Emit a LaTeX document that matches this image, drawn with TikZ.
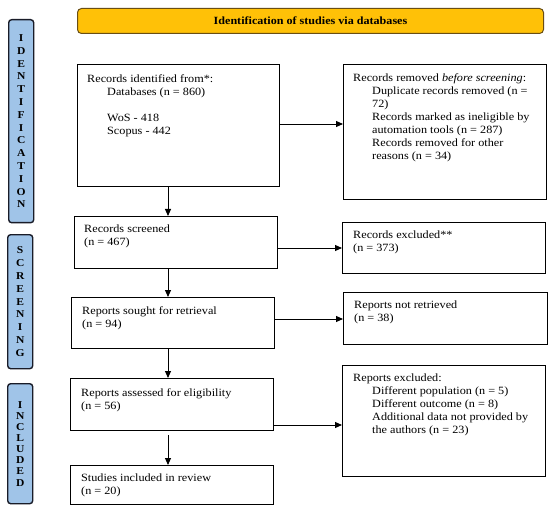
\documentclass[tikz,border=0pt]{standalone}
\usepackage{fontspec}
\setmainfont{Liberation Serif}[FakeStretch=1.1]
\usetikzlibrary{arrows.meta}
\definecolor{bannerfill}{RGB}{255,193,7}
\definecolor{bannerline}{RGB}{105,78,20}
\definecolor{sidefill}{RGB}{160,196,232}
\definecolor{sideline}{RGB}{25,28,40}
\begin{document}
\begin{tikzpicture}[x=1pt,y=-1pt,
  box/.style={draw=black, line width=1.2pt, anchor=north west, inner sep=0pt},
  txt/.style={anchor=north west, inner sep=0pt, align=left, font=\fontsize{11.1}{13}\selectfont},
  sidebox/.style={draw=sideline, fill=sidefill, rounded corners=3pt, line width=1.4pt, anchor=north west, minimum width=25pt, inner sep=0pt, align=center, font=\bfseries\fontsize{10.5}{12.8}\selectfont},
  arr/.style={-{Triangle[length=7pt,width=6pt]}, line width=0.9pt}]
\useasboundingbox (0,0) rectangle (560,508);
\fill[white] (0,0) rectangle (560,508);

% banner
\node[draw=bannerline, fill=bannerfill, rounded corners=4pt, line width=1pt,
  minimum width=466pt, minimum height=25pt, anchor=north west, inner sep=0pt,
  font=\bfseries\fontsize{11}{12}\selectfont] (ban) at (77,8)
  {Identification of studies via databases};

% side labels
\node[sidebox, minimum height=203pt] (sid) at (8,19)
  {I\\D\\E\\N\\T\\I\\F\\I\\C\\A\\T\\I\\O\\N};
\node[sidebox, minimum height=134pt] (sscr) at (7,234)
  {S\\C\\R\\E\\E\\N\\I\\N\\G};
\node[sidebox, minimum height=120pt] (sinc) at (7,383)
  {\raisebox{-3pt}{\shortstack{I\\[1.2pt]N\\[1.2pt]C\\[1.2pt]L\\[1.2pt]U\\[1.2pt]D\\[1.2pt]E\\[1.2pt]D}}};

% boxes (left column)
\node[box, minimum width=202pt, minimum height=122pt] (rid) at (77,64) {};
\node[box, minimum width=203pt, minimum height=52pt] (rsc) at (74,216) {};
\node[box, minimum width=203pt, minimum height=51pt] (rso) at (71,297) {};
\node[box, minimum width=203pt, minimum height=52pt] (ras) at (70,378) {};
\node[box, minimum width=203pt, minimum height=39pt] (rin) at (70,465) {};
% boxes (right column)
\node[box, minimum width=203pt, minimum height=135pt] (rrm) at (343,64) {};
\node[box, minimum width=203pt, minimum height=51pt] (rex) at (342,222) {};
\node[box, minimum width=204pt, minimum height=52pt] (rnr) at (343,292) {};
\node[box, minimum width=203pt, minimum height=111pt] (rre) at (342,365) {};

% texts
\node[txt] (trid) at (87,74) {Records identified from*:\\
  \hspace*{20pt}Databases (n = 860)\\[13pt]
  \hspace*{20pt}WoS - 418\\
  \hspace*{20pt}Scopus - 442};
\node[txt] (trrm) at (353,73) {Records removed \textit{before screening}:\\
  \hspace*{19pt}Duplicate records removed (n =\\
  \hspace*{19pt}72)\\
  \hspace*{19pt}Records marked as ineligible by\\
  \hspace*{19pt}automation tools (n = 287)\\
  \hspace*{19pt}Records removed for other\\
  \hspace*{19pt}reasons (n = 34)};
\node[txt] (trsc) at (84,225) {Records screened\\(n = 467)};
\node[txt] (trex) at (353,231) {Records excluded**\\(n = 373)};
\node[txt] (trso) at (82,306) {Reports sought for retrieval\\(n = 94)};
\node[txt] (trnr) at (354,301) {Reports not retrieved\\(n = 38)};
\node[txt] (tras) at (81,388) {Reports assessed for eligibility\\(n = 56)};
\node[txt] (trre) at (353,374) {Reports excluded:\\
  \hspace*{19pt}Different population (n = 5)\\
  \hspace*{19pt}Different outcome (n = 8)\\
  \hspace*{19pt}Additional data not provided by\\
  \hspace*{19pt}the authors (n = 23)};
\node[txt] (trin) at (81,474) {Studies included in review\\(n = 20)};

% arrows
\coordinate (vx) at (168,0);
\coordinate (h1) at (0,124);
\coordinate (h2) at (0,248);
\coordinate (h3) at (0,319);
\coordinate (h4) at (0,425);
\draw[arr] (rid.south -| vx) -- (rsc.north -| vx);
\draw[arr] (rsc.south -| vx) -- (rso.north -| vx);
\draw[arr] (rso.south -| vx) -- (ras.north -| vx);
\draw[arr] ([yshift=-4pt]ras.south -| vx) -- (rin.north -| vx);
\draw[arr] (rid.east |- h1) -- (rrm.west |- h1);
\draw[arr] (rsc.east |- h2) -- (rex.west |- h2);
\draw[arr] (rso.east |- h3) -- (rnr.west |- h3);
\draw[arr] (ras.east |- h4) -- (rre.west |- h4);
\end{tikzpicture}
\end{document}
